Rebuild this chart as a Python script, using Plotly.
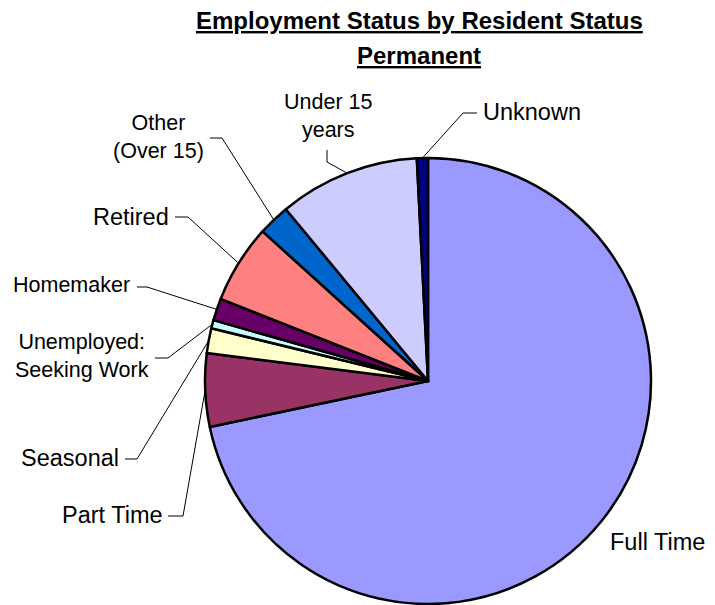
import math
import plotly.graph_objects as go

# Slice data (percent of permanent residents), clockwise from 12 o'clock
labels = ["Full Time", "Part Time", "Seasonal", "Unemployed: Seeking Work", "Homemaker",
          "Retired", "Other (Over 15)", "Under 15 years", "Unknown"]
values = [71.7, 5.3, 1.8, 0.6, 1.6, 5.7, 2.3, 10.2, 0.8]
label_text = ["Full Time", "Part Time", "Seasonal", "Unemployed:<br>Seeking Work", "Homemaker",
              "Retired", "Other<br>(Over 15)", "Under 15<br>years", "Unknown"]
colors = ["#9999FF", "#993366", "#FFFFCC", "#CCFFFF", "#660066",
          "#FF8080", "#0066CC", "#CCCCFF", "#000080"]

W, H = 715, 605
CX, CY, R = 428, 381, 223
FONT = "Liberation Sans, Arial, sans-serif"

# label placement in pixels: text x, text y, xanchor, font size, leader start, leader bend
placement = {
    "Full Time": (707, 542, "right", 23.5, None, None),
    "Part Time": (165, 515, "right", 23.5, (168, 516), (183, 516)),
    "Seasonal": (121, 458, "right", 23.5, (125, 459), (137, 459)),
    "Unemployed: Seeking Work": (82, 356, "center", 21.5, (155, 358), (168, 358)),
    "Homemaker": (132, 285, "right", 21.5, (137, 287), (147, 287)),
    "Retired": (171, 217, "right", 23.5, (175, 217), (188, 217)),
    "Other (Over 15)": (158, 137, "center", 21.5, (210, 138), (222, 138)),
    "Under 15 years": (328, 116, "center", 21.5, (327, 150), (327, 162)),
    "Unknown": (481, 112, "left", 23.5, (477, 113), (463, 113)),
}


def px(x, y):
    return x / W, 1 - y / H


fig = go.Figure(go.Pie(
    labels=labels,
    values=values,
    sort=False,
    direction="clockwise",
    rotation=0,
    textinfo="none",
    hoverinfo="label+percent",
    marker=dict(colors=colors, line=dict(color="black", width=2.5)),
    domain=dict(x=[(CX - R) / W, (CX + R) / W], y=[1 - (CY + R) / H, 1 - (CY - R) / H]),
    showlegend=False,
))

annotations = []
shapes = []
total = sum(values)
cum = 0
for lab, txt, v in zip(labels, label_text, values):
    mid = (cum + v / 2) / total * 2 * math.pi
    cum += v
    tx, ty, anchor, size, start, bend = placement[lab]
    x, y = px(tx, ty)
    annotations.append(dict(
        x=x, y=y, xref="paper", yref="paper", text=txt, showarrow=False,
        xanchor=anchor, yanchor="middle", align="center",
        font=dict(family=FONT, size=size, color="black"),
    ))
    if start is None:
        continue
    ex, ey = CX + R * math.sin(mid), CY - R * math.cos(mid)
    for (x0, y0), (x1, y1) in [(start, bend), (bend, (ex, ey))]:
        a0, b0 = px(x0, y0)
        a1, b1 = px(x1, y1)
        shapes.append(dict(type="line", xref="paper", yref="paper",
                           x0=a0, y0=b0, x1=a1, y1=b1,
                           line=dict(color="black", width=1)))

for txt, ty in [("Employment Status by Resident Status", 20), ("Permanent", 55)]:
    x, y = px(419, ty)
    annotations.append(dict(
        x=x, y=y, xref="paper", yref="paper", showarrow=False,
        text=f"<b><u>{txt}</u></b>", xanchor="center", yanchor="middle",
        font=dict(family=FONT, size=24, color="black"),
    ))

fig.update_layout(
    width=W, height=H,
    margin=dict(t=0, b=0, l=0, r=0),
    plot_bgcolor="white",
    paper_bgcolor="white",
    annotations=annotations,
    shapes=shapes,
)

# drop the browser's default body margin so the chart sits at the page origin
fig.write_html("out.html", config={"displayModeBar": False},
               post_script="document.body.style.margin = '0';")
